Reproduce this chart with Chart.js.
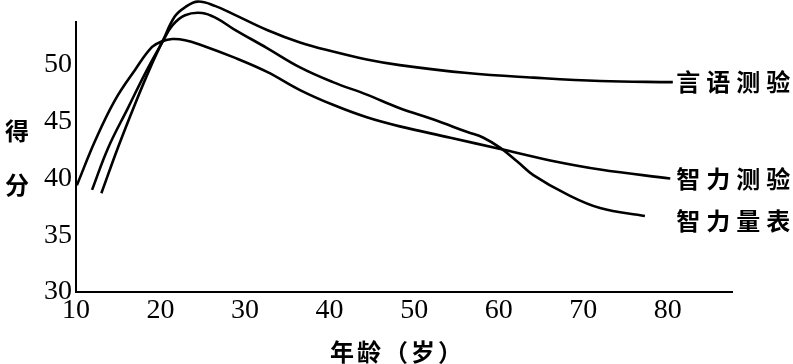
<!DOCTYPE html>
<html lang="zh-CN">
<head>
  <meta charset="UTF-8" />
  <title>年龄与得分</title>
  <style>
    * { box-sizing: border-box; }
    body { margin: 0; background: white; }
    #grafico { display: block; }
  </style>
</head>
<body>
  <canvas id="grafico" width="793" height="364"></canvas>

  <script src="https://cdn.jsdelivr.net/npm/chart.js"></script>
  <script>
    // 言语测验
    const idadeVerbal = [13.0, 15.0, 17.0, 18.8, 20.3, 21.7, 22.9, 24.4, 26.5, 28.6, 32.6, 36.5, 40.4, 44.4, 48.3, 56.3, 64.1, 72.0, 80.6];
    const notaVerbal  = [38.7, 42.8, 46.6, 49.8, 52.2, 54.3, 55.1, 55.6, 55.2, 54.5, 53.1, 52.0, 51.2, 50.5, 50.0, 49.3, 48.9, 48.6, 48.5];

    // 智力量表
    const idadeEscala = [11.9, 13.8, 16.2, 18.2, 20.2, 21.4, 22.9, 24.9, 26.7, 28.6, 32.6, 36.5, 40.4, 44.4, 48.3, 52.3, 56.3, 58.2, 60.2, 62.2, 64.1, 68.1, 72.0, 77.3];
    const notaEscala  = [39.0, 42.7, 46.3, 49.3, 52.0, 53.5, 54.4, 54.6, 54.1, 53.2, 51.5, 49.8, 48.5, 47.4, 46.2, 45.2, 44.1, 43.6, 42.7, 41.5, 40.3, 38.6, 37.4, 36.7];

    // 智力测验
    const idadeTeste = [10.1, 12.3, 14.6, 17.0, 19.0, 20.2, 21.4, 22.9, 24.7, 28.6, 32.6, 36.5, 40.4, 44.4, 48.3, 54.3, 60.2, 66.1, 72.0, 80.3];
    const notaTeste  = [39.4, 43.4, 46.9, 49.6, 51.6, 52.1, 52.3, 52.2, 51.8, 50.7, 49.4, 47.8, 46.5, 45.4, 44.6, 43.6, 42.6, 41.6, 40.8, 40.0];

    const rotulos = ['言语测验', '智力量表', '智力测验'];
    const ticksX = [10, 20, 30, 40, 50, 60, 70, 80];
    const ticksY = [30, 35, 40, 45, 50];

    function pontos(xs, ys) {
      return xs.map((x, i) => ({ x: x, y: ys[i] }));
    }

    function serie(label, xs, ys) {
      return {
        label: label,
        data: pontos(xs, ys),
        borderColor: '#000',
        borderWidth: 2.6,
        pointRadius: 0,
        fill: false,
        tension: 0.4,
        clip: false
      };
    }

    // textos: rotulos das curvas, titulos dos eixos
    const textos = {
      id: 'textos',
      afterDraw(chart) {
        const ctx = chart.ctx;
        const sx = chart.scales.x;
        const sy = chart.scales.y;
        const area = chart.chartArea;
        ctx.save();
        ctx.fillStyle = '#000';
        ctx.font = 'bold 24px "Noto Sans CJK SC"';
        ctx.textBaseline = 'middle';
        ctx.textAlign = 'left';

        const desenha = (txt, x, y, passo) => {
          for (let i = 0; i < txt.length; i++) {
            ctx.fillText(txt[i], x + i * passo, y);
          }
        };

        const xRot = sx.getPixelForValue(81);
        chart.data.datasets.forEach(ds => {
          const ultimo = ds.data[ds.data.length - 1];
          let y = sy.getPixelForValue(ultimo.y);
          if (ds.label === '智力量表') y += 5;
          desenha(ds.label, xRot, y, 30);
        });

        // eixo y: 得 分
        ctx.textAlign = 'center';
        ctx.fillText('得', 17, 131);
        ctx.fillText('分', 17, 185);

        // eixo x
        ctx.font = 'bold 24px "Noto Sans CJK SC"';
        ctx.textAlign = 'left';
        desenha('年龄（岁）', 330, area.bottom + 60, 27);
        ctx.restore();
      }
    };

    new Chart(document.getElementById('grafico'), {
      type: 'line',
      data: {
        datasets: [
          serie(rotulos[0], idadeVerbal, notaVerbal),
          serie(rotulos[1], idadeEscala, notaEscala),
          serie(rotulos[2], idadeTeste, notaTeste)
        ]
      },
      options: {
        responsive: false,
        animation: false,
        devicePixelRatio: 1,
        layout: { padding: { left: 0, top: 22, right: 61, bottom: 0 } },
        plugins: {
          legend: { display: false },
          tooltip: { enabled: false }
        },
        scales: {
          x: {
            type: 'linear',
            min: 10,
            max: 87.6,
            afterBuildTicks: s => { s.ticks = ticksX.map(v => ({ value: v })); },
            afterFit: s => { s.height = 72; },
            grid: { display: false, drawTicks: false },
            border: { display: true, color: '#000', width: 2 },
            ticks: {
              padding: 2,
              color: '#000',
              font: { family: '"Liberation Serif"', size: 28 },
              maxRotation: 0
            }
          },
          y: {
            type: 'linear',
            min: 30,
            max: 53.8,
            afterBuildTicks: s => { s.ticks = ticksY.map(v => ({ value: v })); },
            afterFit: s => { s.width = 76; },
            grid: { display: false, drawTicks: false },
            border: { display: true, color: '#000', width: 2 },
            ticks: {
              padding: 4,
              color: '#000',
              font: { family: '"Liberation Serif"', size: 28 }
            }
          }
        }
      },
      plugins: [textos]
    });
  </script>
</body>
</html>
